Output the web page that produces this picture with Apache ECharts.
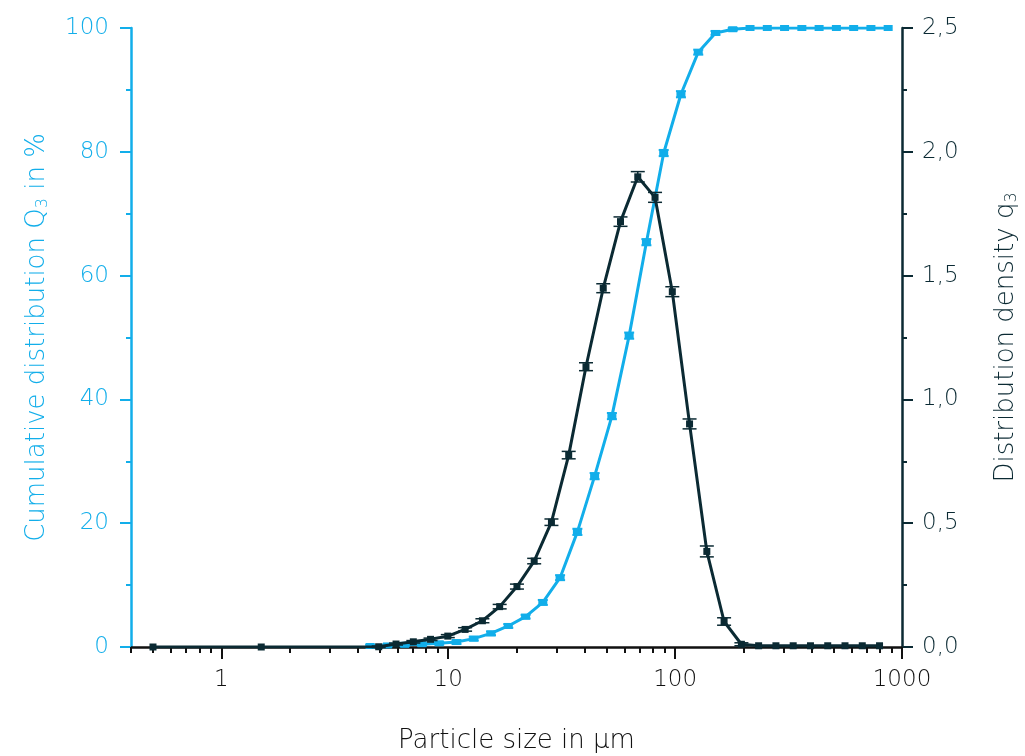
<!DOCTYPE html>
<html>
<head>
<meta charset="utf-8">
<title>Particle size distribution</title>
<script src="https://cdn.jsdelivr.net/npm/echarts@6/dist/echarts.min.js"></script>
<style>
  html, body { margin: 0; padding: 0; background: #fff; }
  #main { width: 1025px; height: 756px; }
</style>
</head>
<body>
<div id="main"></div>
<script>
// cumulative distribution Q3 (upper bin edges, µm / %)
var binEdges = [4.53, 5.40, 6.43, 7.66, 9.13, 10.88, 12.96, 15.44, 18.40, 21.93, 26.12, 31.13, 37.10, 44.19, 52.65, 62.74, 74.74, 89.07, 106.1, 126.5, 150.7, 179.5, 213.9, 254.9, 303.7, 361.9, 431.2, 513.8, 612.2, 729.5, 869.0];
var cumQ3 = [0.16, 0.25, 0.35, 0.45, 0.6, 0.8, 1.35, 2.2, 3.4, 4.9, 7.2, 11.2, 18.6, 27.6, 37.3, 50.3, 65.4, 79.8, 89.3, 96.1, 99.2, 99.8, 100, 100, 100, 100, 100, 100, 100, 100, 100];
var cumErr = [0.2, 0.2, 0.2, 0.2, 0.2, 0.3, 0.3, 0.3, 0.3, 0.3, 0.4, 0.4, 0.5, 0.5, 0.5, 0.5, 0.5, 0.5, 0.5, 0.4, 0.3, 0.2, 0, 0, 0, 0, 0, 0, 0, 0, 0];

// distribution density q3 (bin centres)
var binCenters = [0.5, 1.5, 4.94, 5.89, 7.02, 8.36, 9.96, 11.87, 14.15, 16.86, 20.09, 23.93, 28.51, 33.97, 40.48, 48.23, 57.46, 68.47, 81.58, 97.21, 115.8, 138.0, 164.4, 196.0, 233.4, 278.2, 331.5, 395.0, 470.6, 560.8, 668.2, 796.2];
var densQ3 = [0, 0, 0.001, 0.012, 0.021, 0.031, 0.044, 0.071, 0.106, 0.163, 0.244, 0.347, 0.504, 0.775, 1.132, 1.449, 1.718, 1.899, 1.816, 1.435, 0.901, 0.386, 0.103, 0.011, 0.005, 0.005, 0.005, 0.005, 0.005, 0.005, 0.005, 0.005];
var densErr = [0, 0, 0.003, 0.004, 0.005, 0.005, 0.006, 0.007, 0.008, 0.009, 0.01, 0.011, 0.013, 0.015, 0.016, 0.018, 0.019, 0.021, 0.02, 0.02, 0.02, 0.022, 0.015, 0.006, 0, 0, 0, 0, 0, 0, 0, 0];

// axis ticks
var xMajorTicks = [1, 10, 100, 1000];
var xMinorTicks = [0.4, 0.5, 0.6, 0.7, 0.8, 0.9, 2, 3, 4, 5, 6, 7, 8, 9, 20, 30, 40, 50, 60, 70, 80, 90, 200, 300, 400, 500, 600, 700, 800, 900];

var blue = '#12aeea';
var navy = '#0b2a33';
var tickFont = "'DejaVu Sans ExtraLight', 'DejaVu Sans', sans-serif";

function pairs(xs, ys) {
    var out = [];
    for (var i = 0; i < xs.length; i++) out.push([xs[i], ys[i]]);
    return out;
}
function errData(xs, ys, es) {
    var out = [];
    for (var i = 0; i < xs.length; i++) {
        if (es[i] > 0) out.push([xs[i], ys[i] - es[i], ys[i] + es[i]]);
    }
    return out;
}
// capped error bar, drawn through the axis coords
function errRender(color, w, lw) {
    return function (params, api) {
        var x = api.value(0);
        var pLo = api.coord([x, api.value(1)]);
        var pHi = api.coord([x, api.value(2)]);
        var st = { stroke: color, lineWidth: lw };
        return {
            type: 'group',
            children: [
                { type: 'line', shape: { x1: pLo[0], y1: pLo[1], x2: pHi[0], y2: pHi[1] }, style: st },
                { type: 'line', shape: { x1: pLo[0] - w, y1: pLo[1], x2: pLo[0] + w, y2: pLo[1] }, style: st },
                { type: 'line', shape: { x1: pHi[0] - w, y1: pHi[1], x2: pHi[0] + w, y2: pHi[1] }, style: st }
            ]
        };
    };
}

var myChart = echarts.init(document.getElementById('main'), null, { renderer: 'canvas' });
var option = {
    backgroundColor: '#fff',
    animation: false,
    grid: { left: 131, right: 123, top: 28, bottom: 109, containLabel: false, outerBoundsMode: 'none' },
    xAxis: [{
        type: 'log',
        min: 0.4,
        max: 1000,
        logBase: 10,
        name: 'Particle size in µm',
        nameLocation: 'middle',
        nameGap: 81,
        nameTextStyle: { color: '#111', fontSize: 26, fontFamily: tickFont, fontWeight: 200 },
        axisLine: { onZero: false, lineStyle: { color: '#111', width: 2.5 } },
        axisTick: { show: true, length: 12, inside: false, customValues: xMajorTicks, lineStyle: { color: '#111', width: 2 } },
        axisLabel: {
            customValues: xMajorTicks, margin: 22, color: '#111', fontSize: 23, fontFamily: tickFont, fontWeight: 200,
            formatter: function (v) { return String(Math.round(v)); }
        },
        splitLine: { show: false }
    }, {
        type: 'log',
        min: 0.4,
        max: 1000,
        logBase: 10,
        position: 'bottom',
        axisLine: { show: false },
        axisTick: { show: true, length: 6, customValues: xMinorTicks, lineStyle: { color: '#111', width: 2 } },
        axisLabel: { show: false },
        splitLine: { show: false }
    }],
    yAxis: [{
        type: 'value',
        min: 0,
        max: 100,
        interval: 20,
        position: 'left',
        name: '{a|Cumulative distribution Q}{s|3}{a| in %}',
        nameLocation: 'middle',
        nameGap: 80,
        nameTextStyle: {
            color: blue,
            rich: {
                a: { color: blue, fontSize: 26, fontFamily: tickFont, fontWeight: 200 },
                s: { color: blue, fontSize: 16, fontFamily: tickFont, fontWeight: 200, verticalAlign: 'bottom', padding: [12, 0, 0, 0] }
            }
        },
        axisLine: { show: true, lineStyle: { color: blue, width: 2.5 } },
        axisTick: { show: true, length: 11, lineStyle: { color: blue, width: 2 } },
        minorTick: { show: true, splitNumber: 2, length: 5, lineStyle: { color: blue, width: 2 } },
        axisLabel: { margin: 22, color: blue, fontSize: 23, fontFamily: tickFont, fontWeight: 200 },
        splitLine: { show: false }
    }, {
        type: 'value',
        min: 0,
        max: 2.5,
        interval: 0.5,
        position: 'right',
        name: '{a|Distribution density q}{s|3}',
        nameLocation: 'middle',
        nameGap: 90,
        nameTextStyle: {
            color: navy,
            rich: {
                a: { color: navy, fontSize: 26, fontFamily: tickFont, fontWeight: 200 },
                s: { color: navy, fontSize: 16, fontFamily: tickFont, fontWeight: 200, verticalAlign: 'bottom', padding: [12, 0, 0, 0] }
            }
        },
        axisLine: { show: true, lineStyle: { color: navy, width: 2.5 } },
        axisTick: { show: true, length: 11, lineStyle: { color: navy, width: 2 } },
        minorTick: { show: true, splitNumber: 2, length: 5, lineStyle: { color: navy, width: 2 } },
        axisLabel: {
            margin: 20, color: navy, fontSize: 23, fontFamily: tickFont, fontWeight: 200,
            formatter: function (v) { return v.toFixed(1).replace('.', ','); }
        },
        splitLine: { show: false }
    }],
    series: [{
        name: 'Q3',
        type: 'line',
        xAxisIndex: 0,
        yAxisIndex: 0,
        data: pairs(binEdges, cumQ3),
        symbol: 'rect',
        symbolSize: [9, 6],
        itemStyle: { color: blue },
        lineStyle: { color: blue, width: 3 },
        z: 2
    }, {
        name: 'Q3 err',
        type: 'custom',
        xAxisIndex: 0,
        yAxisIndex: 0,
        data: errData(binEdges, cumQ3, cumErr),
        renderItem: errRender(blue, 5, 2),
        z: 3
    }, {
        name: 'q3',
        type: 'line',
        xAxisIndex: 0,
        yAxisIndex: 1,
        data: pairs(binCenters, densQ3),
        symbol: 'rect',
        symbolSize: 7,
        itemStyle: { color: navy },
        lineStyle: { color: navy, width: 3 },
        z: 4
    }, {
        name: 'q3 err',
        type: 'custom',
        xAxisIndex: 0,
        yAxisIndex: 1,
        data: errData(binCenters, densQ3, densErr),
        renderItem: errRender(navy, 7, 1.5),
        z: 5
    }]
};
myChart.setOption(option);
</script>
</body>
</html>
